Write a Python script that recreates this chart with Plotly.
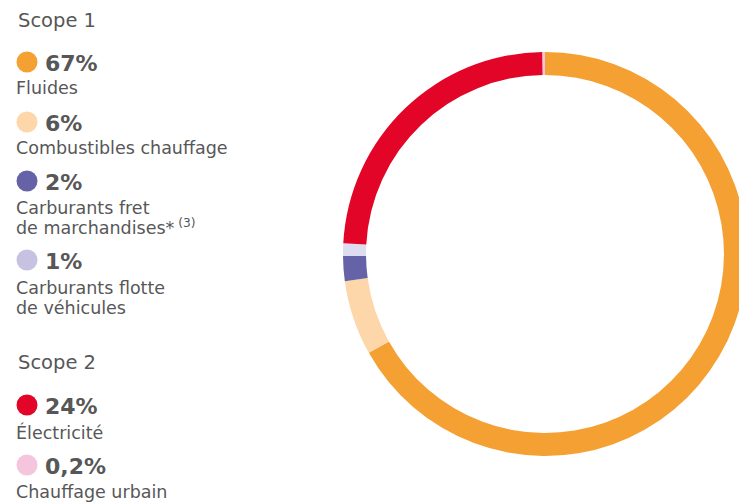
import plotly.graph_objects as go

# page has an 8px body margin; work in screen pixels and shift
OFF = 8
W, H = 747 - OFF, 502 - OFF

labels = ["Fluides", "Combustibles chauffage", "Carburants fret de marchandises",
          "Carburants flotte de véhicules", "Électricité", "Chauffage urbain"]
values = [67, 6, 2, 1, 24, 0.2]
pct_labels = ["67%", "6%", "2%", "1%", "24%", "0,2%"]
ring_colors = ["#F5A033", "#FDD6AA", "#6562A8", "#DDDCF0", "#E30527", "#F4C5DD"]
dot_colors = ["#F5A033", "#FDD6AA", "#6562A8", "#C7C2E2", "#E30527", "#F4C5DD"]
legend_lines = [["Fluides"], ["Combustibles chauffage"],
                ["Carburants fret", "de marchandises*<sup> (3)</sup>"],
                ["Carburants flotte", "de véhicules"], ["Électricité"], ["Chauffage urbain"]]
scope_titles = ["Scope 1", "Scope 2"]

TXT = "#575757"
FONT = "DejaVu Sans"


def px(x):
    return (x - OFF) / W


def py(y):
    return 1 - (y - OFF) / H


fig = go.Figure(go.Pie(
    labels=labels, values=values, sort=False, direction="clockwise", rotation=0,
    hole=0.886, marker=dict(colors=ring_colors, line=dict(width=0)),
    textinfo="none", hoverinfo="label+percent", showlegend=False,
    domain=dict(x=[px(343), 1], y=[py(458), py(50)]),
))

ann = []
shapes = []
dot_y = [62, 122, 181, 260, 405, 465]
name_y = [[88], [148], [208, 227], [288, 308], [432], [492]]
scope_y = [20, 362]

for t, y in zip(scope_titles, scope_y):
    ann.append(dict(x=px(16), y=py(y), text=t, showarrow=False, xanchor="left",
                    yanchor="middle", xref="paper", yref="paper",
                    font=dict(family=FONT, size=19.5, color=TXT)))

for i in range(len(values)):
    r = 10.5
    shapes.append(dict(type="circle", xref="paper", yref="paper",
                       x0=px(27 - r), x1=px(27 + r), y0=py(dot_y[i] + r), y1=py(dot_y[i] - r),
                       fillcolor=dot_colors[i], line=dict(width=0)))
    ann.append(dict(x=px(43), y=py(dot_y[i] + 1), text="<b>" + pct_labels[i] + "</b>",
                    showarrow=False, xanchor="left", yanchor="middle", xref="paper", yref="paper",
                    font=dict(family=FONT, size=22, color=TXT, weight=800)))
    for line, yy in zip(legend_lines[i], name_y[i]):
        ann.append(dict(x=px(14), y=py(yy), text=line, showarrow=False,
                        xanchor="left", yanchor="middle", align="left", xref="paper", yref="paper",
                        font=dict(family=FONT, size=17.5, color=TXT)))

fig.update_layout(
    width=W, height=H, margin=dict(l=0, r=0, t=0, b=0),
    paper_bgcolor="white", plot_bgcolor="white",
    annotations=ann, shapes=shapes,
)

fig.write_html("out.html")
